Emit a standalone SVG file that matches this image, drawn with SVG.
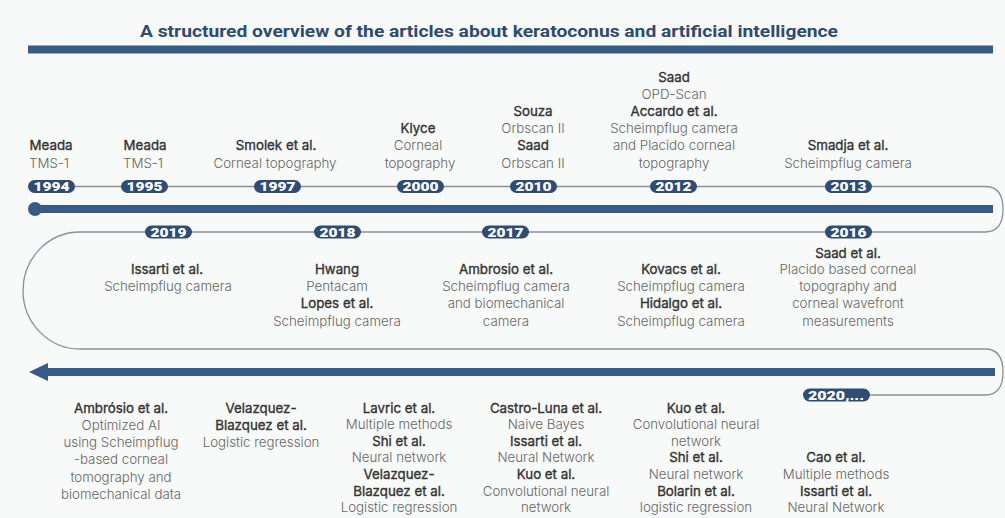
<svg xmlns="http://www.w3.org/2000/svg" width="1005" height="518" viewBox="0 0 1005 518">
<style>
.bg{fill:#f8f9f9}
.title{font-family:Roboto,"Liberation Sans",sans-serif;font-weight:700;font-size:16px;fill:#2e4b72}
.bar{fill:#385a88}
.thin{fill:none;stroke:#8c9097;stroke-width:1.3}
.pill{fill:#2f4c74}
.yr{font-family:Roboto,"Liberation Sans",sans-serif;font-weight:900;font-size:12px;fill:#ffffff;text-anchor:middle}
.n{font-family:Inter,Roboto,"Liberation Sans",sans-serif;font-weight:400;font-size:13.3px;fill:#333333;stroke:#333333;stroke-width:0.35;text-anchor:middle}
.d{font-family:Inter,Roboto,"Liberation Sans",sans-serif;font-weight:300;font-size:13.3px;fill:#666666;text-anchor:middle}
</style>
<rect class="bg" x="0" y="0" width="1005" height="518"/>
<text class="title" x="489" y="37" textLength="698" lengthAdjust="spacingAndGlyphs" text-anchor="middle">A structured overview of the articles about keratoconus and artificial intelligence</text>
<rect class="bar" x="28" y="45.5" width="965" height="8"/>

<g id="connectors">
  <path class="thin" d="M52 186.5 H985 Q1003 186.5 1003 209 Q1003 232 985 232 H80 A57 58.5 0 0 0 80 349 H985 Q1003 349 1003 372 Q1003 395 985 395 H836"/>
  <circle class="bar" cx="35" cy="209" r="7"/>
  <rect class="bar" x="35" y="205" width="958" height="8"/>
  <rect class="bar" x="44" y="368" width="951" height="8"/>
  <path class="bar" d="M29 372 L48 363 L48 381 Z"/>
</g>

<g id="n1994">
  <rect class="pill" x="28" y="180" width="47" height="13" rx="6.5"/>
  <text class="yr" x="51.5" y="191" textLength="36" lengthAdjust="spacingAndGlyphs">1994</text>
  <text class="n" x="51" y="150.4">Meada</text>
  <text class="d" x="49" y="167.5">TMS-1</text>
</g>
<g id="n1995">
  <rect class="pill" x="121" y="180" width="47" height="13" rx="6.5"/>
  <text class="yr" x="144.5" y="191" textLength="36" lengthAdjust="spacingAndGlyphs">1995</text>
  <text class="n" x="145" y="150.4">Meada</text>
  <text class="d" x="143" y="167.5">TMS-1</text>
</g>
<g id="n1997">
  <rect class="pill" x="254" y="180" width="47" height="13" rx="6.5"/>
  <text class="yr" x="277.5" y="191" textLength="36" lengthAdjust="spacingAndGlyphs">1997</text>
  <text class="n" x="276" y="150.4">Smolek et al.</text>
  <text class="d" x="275" y="167.5">Corneal topography</text>
</g>
<g id="n2000">
  <rect class="pill" x="397" y="180" width="47" height="13" rx="6.5"/>
  <text class="yr" x="420.5" y="191" textLength="36" lengthAdjust="spacingAndGlyphs">2000</text>
  <text class="n" x="418" y="133.3">Klyce</text>
  <text class="d" x="418" y="150.4">Corneal</text>
  <text class="d" x="420" y="167.5">topography</text>
</g>
<g id="n2010">
  <rect class="pill" x="510" y="180" width="47" height="13" rx="6.5"/>
  <text class="yr" x="533.5" y="191" textLength="36" lengthAdjust="spacingAndGlyphs">2010</text>
  <text class="n" x="533" y="116.2">Souza</text>
  <text class="d" x="533" y="133.3">Orbscan II</text>
  <text class="n" x="533" y="150.4">Saad</text>
  <text class="d" x="533" y="167.5">Orbscan II</text>
</g>
<g id="n2012">
  <rect class="pill" x="650" y="180" width="47" height="13" rx="6.5"/>
  <text class="yr" x="673.5" y="191" textLength="36" lengthAdjust="spacingAndGlyphs">2012</text>
  <text class="n" x="674" y="82">Saad</text>
  <text class="d" x="674" y="99.1">OPD-Scan</text>
  <text class="n" x="674" y="116.2">Accardo et al.</text>
  <text class="d" x="674" y="133.3">Scheimpflug camera</text>
  <text class="d" x="674" y="150.4">and Placido corneal</text>
  <text class="d" x="674" y="167.5">topography</text>
</g>
<g id="n2013">
  <rect class="pill" x="825" y="180" width="47" height="13" rx="6.5"/>
  <text class="yr" x="848.5" y="191" textLength="36" lengthAdjust="spacingAndGlyphs">2013</text>
  <text class="n" x="848" y="150.4">Smadja et al.</text>
  <text class="d" x="848" y="167.5">Scheimpflug camera</text>
</g>

<g id="n2019">
  <rect class="pill" x="145" y="225.5" width="47" height="13" rx="6.5"/>
  <text class="yr" x="168.5" y="236.5" textLength="36" lengthAdjust="spacingAndGlyphs">2019</text>
  <text class="n" x="167" y="274">Issarti et al.</text>
  <text class="d" x="168" y="291.2">Scheimpflug camera</text>
</g>
<g id="n2018">
  <rect class="pill" x="314" y="225.5" width="47" height="13" rx="6.5"/>
  <text class="yr" x="337.5" y="236.5" textLength="36" lengthAdjust="spacingAndGlyphs">2018</text>
  <text class="n" x="337" y="274">Hwang</text>
  <text class="d" x="337" y="291.2">Pentacam</text>
  <text class="n" x="337" y="308.4">Lopes et al.</text>
  <text class="d" x="337" y="325.6">Scheimpflug camera</text>
</g>
<g id="n2017">
  <rect class="pill" x="482" y="225.5" width="47" height="13" rx="6.5"/>
  <text class="yr" x="505.5" y="236.5" textLength="36" lengthAdjust="spacingAndGlyphs">2017</text>
  <text class="n" x="506" y="274">Ambrosio et al.</text>
  <text class="d" x="506" y="291.2">Scheimpflug camera</text>
  <text class="d" x="506" y="308.4">and biomechanical</text>
  <text class="d" x="506" y="325.6">camera</text>
</g>
<g id="nKovacs">
  <text class="n" x="681" y="274">Kovacs et al.</text>
  <text class="d" x="681" y="291.2">Scheimpflug camera</text>
  <text class="n" x="681" y="308.4">Hidalgo et al.</text>
  <text class="d" x="681" y="325.6">Scheimpflug camera</text>
</g>
<g id="n2016">
  <rect class="pill" x="825" y="225.5" width="47" height="13" rx="6.5"/>
  <text class="yr" x="848.5" y="236.5" textLength="36" lengthAdjust="spacingAndGlyphs">2016</text>
  <text class="n" x="848" y="257.5">Saad et al.</text>
  <text class="d" x="848" y="274">Placido based corneal</text>
  <text class="d" x="848" y="291.2">topography and</text>
  <text class="d" x="848" y="308.4">corneal wavefront</text>
  <text class="d" x="848" y="325.6">measurements</text>
</g>

<g id="nAmbrosio">
  <text class="n" x="121" y="412.5">Ambrósio et al.</text>
  <text class="d" x="121" y="429.8">Optimized AI</text>
  <text class="d" x="121" y="447.1">using Scheimpflug</text>
  <text class="d" x="121" y="464.4">-based corneal</text>
  <text class="d" x="121" y="481.7">tomography and</text>
  <text class="d" x="121" y="499">biomechanical data</text>
</g>
<g id="nVelazquez">
  <text class="n" x="261" y="412.5">Velazquez-</text>
  <text class="n" x="261" y="429.8">Blazquez et al.</text>
  <text class="d" x="261" y="447.1">Logistic regression</text>
</g>
<g id="nLavric">
  <text class="n" x="399" y="412.5">Lavric et al.</text>
  <text class="d" x="399" y="429.1">Multiple methods</text>
  <text class="n" x="399" y="445.7">Shi et al.</text>
  <text class="d" x="399" y="462.3">Neural network</text>
  <text class="n" x="399" y="478.9">Velazquez-</text>
  <text class="n" x="399" y="495.5">Blazquez et al.</text>
  <text class="d" x="399" y="512.1">Logistic regression</text>
</g>
<g id="nCastro">
  <text class="n" x="546" y="412.5">Castro-Luna et al.</text>
  <text class="d" x="546" y="429.1">Naive Bayes</text>
  <text class="n" x="546" y="445.7">Issarti et al.</text>
  <text class="d" x="546" y="462.3">Neural Network</text>
  <text class="n" x="546" y="478.9">Kuo et al.</text>
  <text class="d" x="546" y="495.5">Convolutional neural</text>
  <text class="d" x="546" y="512.1">network</text>
</g>
<g id="nKuo">
  <text class="n" x="696" y="412.5">Kuo et al.</text>
  <text class="d" x="696" y="429.1">Convolutional neural</text>
  <text class="d" x="696" y="445.7">network</text>
  <text class="n" x="696" y="462.3">Shi et al.</text>
  <text class="d" x="696" y="478.9">Neural network</text>
  <text class="n" x="696" y="495.5">Bolarin et al.</text>
  <text class="d" x="696" y="512.1">logistic regression</text>
</g>
<g id="n2020">
  <rect class="pill" x="803" y="388.5" width="67" height="13" rx="6.5"/>
  <text class="yr" x="836" y="399.5" textLength="56" lengthAdjust="spacingAndGlyphs">2020,...</text>
  <text class="n" x="836" y="462.3">Cao et al.</text>
  <text class="d" x="836" y="478.9">Multiple methods</text>
  <text class="n" x="836" y="495.5">Issarti et al.</text>
  <text class="d" x="836" y="512.1">Neural Network</text>
</g>
</svg>
